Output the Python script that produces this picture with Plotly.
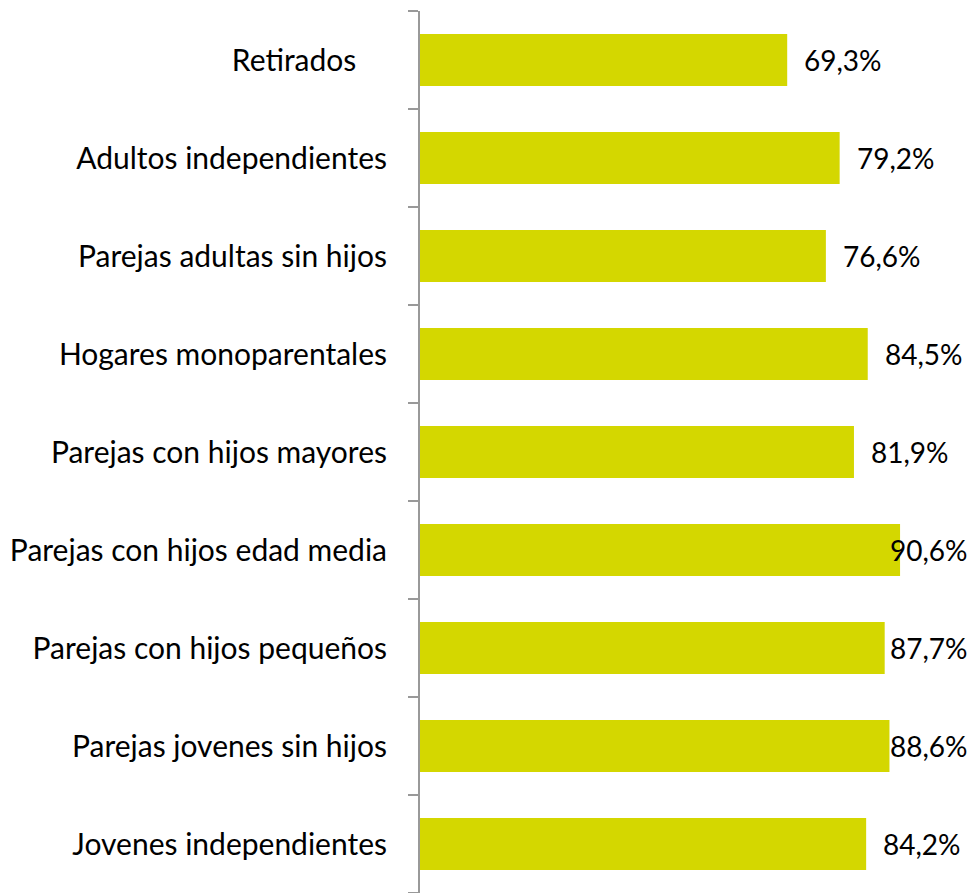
import plotly.graph_objects as go

categories = ["Jovenes independientes", "Parejas jovenes sin hijos", "Parejas con hijos pequeños",
              "Parejas con hijos edad media", "Parejas con hijos mayores", "Hogares monoparentales",
              "Parejas adultas sin hijos", "Adultos independientes", "Retirados\u00a0\u00a0\u00a0\u00a0"]
values = [84.2, 88.6, 87.7, 90.6, 81.9, 84.5, 76.6, 79.2, 69.3]
labels = [f"{v:.1f}%".replace(".", ",") for v in values]

FONT = "Lato"
fig = go.Figure(go.Bar(
    y=categories, x=values, orientation="h",
    marker=dict(color="#D4D700", line=dict(width=0)),
    width=0.53, hoverinfo="skip",
))

x_max = 103.8
offset = 2.83
cap = 88.35
for c, v, t in zip(categories, values, labels):
    fig.add_annotation(x=min(v + offset, cap), y=c, text=t, showarrow=False,
                       xanchor="left", yanchor="middle",
                       font=dict(family=FONT, size=28, color="#000000"))

fig.update_layout(
    width=974, height=893,
    margin=dict(l=420, r=4, t=11, b=0),
    paper_bgcolor="white", plot_bgcolor="white",
    showlegend=False,
    bargap=0.47,
    xaxis=dict(range=[0, x_max], visible=False, showgrid=False, zeroline=False, automargin=False),
    yaxis=dict(showline=True, linecolor="#999999", linewidth=2, automargin=False,
               ticks="outside", tickson="boundaries", ticklen=10, tickcolor="#999999", tickwidth=2,
               showgrid=False, ticklabelstandoff=25,
               tickfont=dict(family=FONT, size=30, color="#000000")),
)
fig.write_html("out.html", config={"displayModeBar": False, "staticPlot": True},
               post_script="document.body.style.margin='0';document.body.style.overflow='hidden';")
